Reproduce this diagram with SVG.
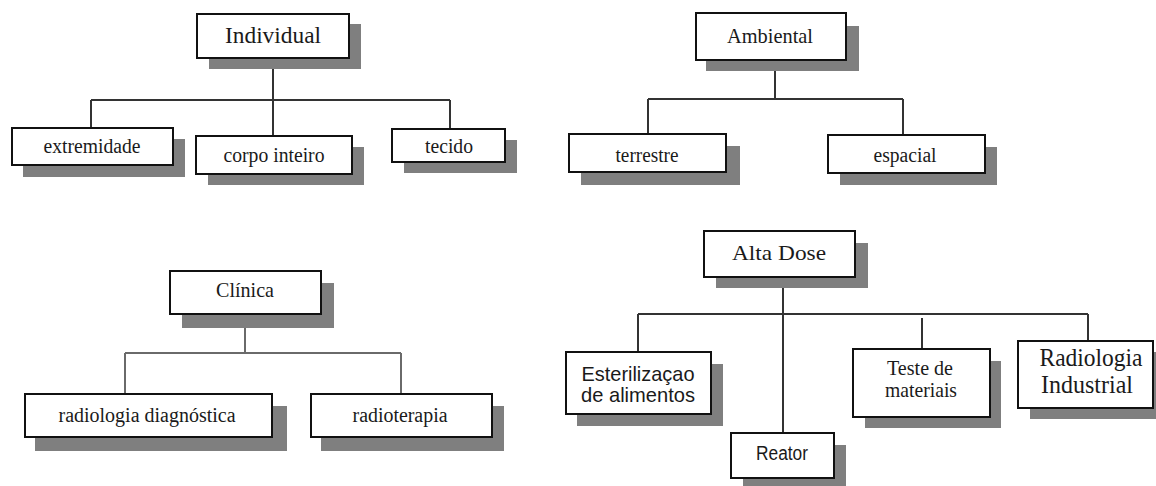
<svg xmlns="http://www.w3.org/2000/svg" width="1156" height="486" viewBox="0 0 1156 486">
<style>
.sh{fill:#7f7f7f}
.bx{fill:#fff;stroke:#111;stroke-width:2}
.t{font-family:"Liberation Serif","Times New Roman",serif;fill:#1a1a1a;text-anchor:middle}
.s{font-family:"Liberation Sans",Arial,sans-serif;fill:#1a1a1a;text-anchor:middle}
.c{fill:none;stroke:#333;stroke-width:2}
.cg{fill:none;stroke:#6a6a6a;stroke-width:2}
</style>
<rect width="1156" height="486" fill="#fff"/>
<g id="connectors">
<path class="c" d="M273 58V136M91 100H450M91 100V128M450 100V129"/>
<path class="c" d="M775 60V99M648 99H903M648 99V134M903 99V135"/>
<path class="cg" d="M245 314V353M125 353H401M125 353V394M401 353V394"/>
<path class="c" d="M783 277V433M638 314H1088M638 314V352M922 318V349M1088 314V341"/>
</g>
<g id="individual"><rect class="sh" x="209" y="24" width="152" height="45"/><rect class="bx" x="197" y="14" width="152" height="44"/><text class="t" x="273" y="43" font-size="23" textLength="96" lengthAdjust="spacingAndGlyphs">Individual</text></g>
<g id="extremidade"><rect class="sh" x="23" y="139" width="162" height="38"/><rect class="bx" x="12" y="128" width="161" height="37"/><text class="t" x="92" y="153" font-size="20" textLength="97" lengthAdjust="spacingAndGlyphs">extremidade</text></g>
<g id="corpo-inteiro"><rect class="sh" x="208" y="147" width="156" height="38"/><rect class="bx" x="196" y="136" width="156" height="38"/><text class="t" x="274" y="162" font-size="20" textLength="101" lengthAdjust="spacingAndGlyphs">corpo inteiro</text></g>
<g id="tecido"><rect class="sh" x="404" y="140" width="113" height="33"/><rect class="bx" x="392" y="129" width="113" height="33"/><text class="t" x="449" y="153" font-size="20" textLength="48" lengthAdjust="spacingAndGlyphs">tecido</text></g>
<g id="ambiental"><rect class="sh" x="706" y="26" width="153" height="45"/><rect class="bx" x="696" y="13" width="150" height="47"/><text class="t" x="770" y="43" font-size="21" textLength="86" lengthAdjust="spacingAndGlyphs">Ambiental</text></g>
<g id="terrestre"><rect class="sh" x="581" y="146" width="159" height="39"/><rect class="bx" x="569" y="134" width="157" height="38"/><text class="t" x="647" y="162" font-size="20" textLength="63" lengthAdjust="spacingAndGlyphs">terrestre</text></g>
<g id="espacial"><rect class="sh" x="840" y="147" width="157" height="38"/><rect class="bx" x="828" y="135" width="157" height="38"/><text class="t" x="905" y="162" font-size="20" textLength="63" lengthAdjust="spacingAndGlyphs">espacial</text></g>
<g id="clinica"><rect class="sh" x="182" y="283" width="152" height="45"/><rect class="bx" x="170" y="271" width="151" height="43"/><text class="t" x="245" y="297" font-size="21" textLength="58" lengthAdjust="spacingAndGlyphs">Clínica</text></g>
<g id="radiologia-diagnostica"><rect class="sh" x="35" y="406" width="252" height="45"/><rect class="bx" x="25" y="394" width="247" height="43"/><text class="t" x="147" y="422" font-size="20" textLength="177" lengthAdjust="spacingAndGlyphs">radiologia diagnóstica</text></g>
<g id="radioterapia"><rect class="sh" x="321" y="406" width="183" height="45"/><rect class="bx" x="311" y="394" width="181" height="43"/><text class="t" x="400" y="422" font-size="20" textLength="95" lengthAdjust="spacingAndGlyphs">radioterapia</text></g>
<g id="alta-dose"><rect class="sh" x="716" y="243" width="152" height="45"/><rect class="bx" x="704" y="231" width="151" height="46"/><text class="t" x="779" y="260" font-size="22" textLength="94" lengthAdjust="spacingAndGlyphs">Alta Dose</text></g>
<g id="esterilizacao"><rect class="sh" x="577" y="364" width="146" height="62"/><rect class="bx" x="566" y="352" width="145" height="62"/><text class="s" x="638" y="381" font-size="21" textLength="113" lengthAdjust="spacingAndGlyphs">Esterilizaçao</text><text class="s" x="638" y="402" font-size="21" textLength="114" lengthAdjust="spacingAndGlyphs">de alimentos</text></g>
<g id="reator"><rect class="sh" x="743" y="445" width="103" height="45"/><rect class="bx" x="731" y="433" width="103" height="45"/><text class="s" x="782" y="460" font-size="20" textLength="52" lengthAdjust="spacingAndGlyphs">Reator</text></g>
<g id="teste"><rect class="sh" x="865" y="361" width="136" height="67"/><rect class="bx" x="853" y="349" width="137" height="68"/><text class="t" x="920" y="375" font-size="21" textLength="66" lengthAdjust="spacingAndGlyphs">Teste de</text><text class="t" x="921" y="397" font-size="21" textLength="72" lengthAdjust="spacingAndGlyphs">materiais</text></g>
<g id="radiologia-industrial"><rect class="sh" x="1030" y="352" width="126" height="67"/><rect class="bx" x="1018" y="341" width="135" height="67"/><text class="t" x="1091" y="366" font-size="25" textLength="103" lengthAdjust="spacingAndGlyphs">Radiologia</text><text class="t" x="1087" y="393" font-size="25" textLength="92" lengthAdjust="spacingAndGlyphs">Industrial</text></g>
</svg>
